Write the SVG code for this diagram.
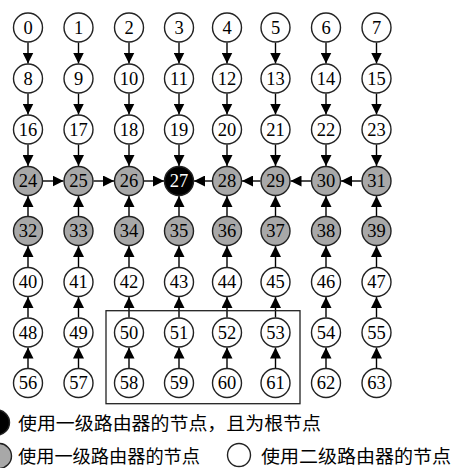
<svg xmlns="http://www.w3.org/2000/svg" width="456" height="468" viewBox="0 0 456 468">
<style>
circle{stroke:#222;stroke-width:1.4}
.w{fill:#fff}
.g{fill:#a8a8a8}
.b{fill:#000}
text{font-family:"Liberation Serif","Times New Roman",serif;font-size:18.5px;text-anchor:middle;fill:#000}
.bt{fill:#fff}
.e line{stroke:#000;stroke-width:1.4;marker-end:url(#ah)}
.lg{font-family:"Liberation Serif","Noto Sans CJK SC",serif;font-size:18px;text-anchor:start}
</style>
<defs>
<marker id="ah" markerUnits="userSpaceOnUse" markerWidth="11" markerHeight="11" refX="11" refY="5.5" orient="auto"><path d="M0,0 L11,5.5 L0,11 z" fill="#000"/></marker>
</defs>
<g class="e" id="connectors">
<line x1="28" y1="42.5" x2="28" y2="63.5"/><line x1="78.5" y1="42.5" x2="78.5" y2="63.5"/><line x1="129" y1="42.5" x2="129" y2="63.5"/><line x1="179" y1="42.5" x2="179" y2="63.5"/><line x1="227" y1="42.5" x2="227" y2="63.5"/><line x1="275.5" y1="42.5" x2="275.5" y2="63.5"/><line x1="326" y1="42.5" x2="326" y2="63.5"/><line x1="376.5" y1="42.5" x2="376.5" y2="63.5"/>
<line x1="28" y1="93.5" x2="28" y2="114.5"/><line x1="78.5" y1="93.5" x2="78.5" y2="114.5"/><line x1="129" y1="93.5" x2="129" y2="114.5"/><line x1="179" y1="93.5" x2="179" y2="114.5"/><line x1="227" y1="93.5" x2="227" y2="114.5"/><line x1="275.5" y1="93.5" x2="275.5" y2="114.5"/><line x1="326" y1="93.5" x2="326" y2="114.5"/><line x1="376.5" y1="93.5" x2="376.5" y2="114.5"/>
<line x1="28" y1="144.5" x2="28" y2="166"/><line x1="78.5" y1="144.5" x2="78.5" y2="166"/><line x1="129" y1="144.5" x2="129" y2="166"/><line x1="179" y1="144.5" x2="179" y2="166"/><line x1="227" y1="144.5" x2="227" y2="166"/><line x1="275.5" y1="144.5" x2="275.5" y2="166"/><line x1="326" y1="144.5" x2="326" y2="166"/><line x1="376.5" y1="144.5" x2="376.5" y2="166"/>
<line x1="43" y1="181" x2="63.5" y2="181"/><line x1="93.5" y1="181" x2="114" y2="181"/><line x1="144" y1="181" x2="164" y2="181"/>
<line x1="212" y1="181" x2="194" y2="181"/><line x1="260.5" y1="181" x2="242" y2="181"/><line x1="311" y1="181" x2="290.5" y2="181"/><line x1="361.5" y1="181" x2="341" y2="181"/>
<line x1="28" y1="216" x2="28" y2="196"/><line x1="78.5" y1="216" x2="78.5" y2="196"/><line x1="129" y1="216" x2="129" y2="196"/><line x1="179" y1="216" x2="179" y2="196"/><line x1="227" y1="216" x2="227" y2="196"/><line x1="275.5" y1="216" x2="275.5" y2="196"/><line x1="326" y1="216" x2="326" y2="196"/><line x1="376.5" y1="216" x2="376.5" y2="196"/>
<line x1="28" y1="267" x2="28" y2="246"/><line x1="78.5" y1="267" x2="78.5" y2="246"/><line x1="129" y1="267" x2="129" y2="246"/><line x1="179" y1="267" x2="179" y2="246"/><line x1="227" y1="267" x2="227" y2="246"/><line x1="275.5" y1="267" x2="275.5" y2="246"/><line x1="326" y1="267" x2="326" y2="246"/><line x1="376.5" y1="267" x2="376.5" y2="246"/>
<line x1="28" y1="317.5" x2="28" y2="297"/><line x1="78.5" y1="317.5" x2="78.5" y2="297"/><line x1="129" y1="317.5" x2="129" y2="297"/><line x1="179" y1="317.5" x2="179" y2="297"/><line x1="227" y1="317.5" x2="227" y2="297"/><line x1="275.5" y1="317.5" x2="275.5" y2="297"/><line x1="326" y1="317.5" x2="326" y2="297"/><line x1="376.5" y1="317.5" x2="376.5" y2="297"/>
<line x1="28" y1="368" x2="28" y2="347.5"/><line x1="78.5" y1="368" x2="78.5" y2="347.5"/><line x1="129" y1="368" x2="129" y2="347.5"/><line x1="179" y1="368" x2="179" y2="347.5"/><line x1="227" y1="368" x2="227" y2="347.5"/><line x1="275.5" y1="368" x2="275.5" y2="347.5"/><line x1="326" y1="368" x2="326" y2="347.5"/><line x1="376.5" y1="368" x2="376.5" y2="347.5"/>
</g>
<rect id="box" x="106" y="310.7" width="194" height="93" fill="none" stroke="#222" stroke-width="1.3"/>
<g id="n0"><circle class="w" cx="28" cy="27.5" r="14.5"/><text x="28" y="33.5">0</text></g>
<g id="n1"><circle class="w" cx="78.5" cy="27.5" r="14.5"/><text x="78.5" y="33.5">1</text></g>
<g id="n2"><circle class="w" cx="129" cy="27.5" r="14.5"/><text x="129" y="33.5">2</text></g>
<g id="n3"><circle class="w" cx="179" cy="27.5" r="14.5"/><text x="179" y="33.5">3</text></g>
<g id="n4"><circle class="w" cx="227" cy="27.5" r="14.5"/><text x="227" y="33.5">4</text></g>
<g id="n5"><circle class="w" cx="275.5" cy="27.5" r="14.5"/><text x="275.5" y="33.5">5</text></g>
<g id="n6"><circle class="w" cx="326" cy="27.5" r="14.5"/><text x="326" y="33.5">6</text></g>
<g id="n7"><circle class="w" cx="376.5" cy="27.5" r="14.5"/><text x="376.5" y="33.5">7</text></g>
<g id="n8"><circle class="w" cx="28" cy="78.5" r="14.5"/><text x="28" y="84.5">8</text></g>
<g id="n9"><circle class="w" cx="78.5" cy="78.5" r="14.5"/><text x="78.5" y="84.5">9</text></g>
<g id="n10"><circle class="w" cx="129" cy="78.5" r="14.5"/><text x="129" y="84.5">10</text></g>
<g id="n11"><circle class="w" cx="179" cy="78.5" r="14.5"/><text x="179" y="84.5">11</text></g>
<g id="n12"><circle class="w" cx="227" cy="78.5" r="14.5"/><text x="227" y="84.5">12</text></g>
<g id="n13"><circle class="w" cx="275.5" cy="78.5" r="14.5"/><text x="275.5" y="84.5">13</text></g>
<g id="n14"><circle class="w" cx="326" cy="78.5" r="14.5"/><text x="326" y="84.5">14</text></g>
<g id="n15"><circle class="w" cx="376.5" cy="78.5" r="14.5"/><text x="376.5" y="84.5">15</text></g>
<g id="n16"><circle class="w" cx="28" cy="129.5" r="14.5"/><text x="28" y="135.5">16</text></g>
<g id="n17"><circle class="w" cx="78.5" cy="129.5" r="14.5"/><text x="78.5" y="135.5">17</text></g>
<g id="n18"><circle class="w" cx="129" cy="129.5" r="14.5"/><text x="129" y="135.5">18</text></g>
<g id="n19"><circle class="w" cx="179" cy="129.5" r="14.5"/><text x="179" y="135.5">19</text></g>
<g id="n20"><circle class="w" cx="227" cy="129.5" r="14.5"/><text x="227" y="135.5">20</text></g>
<g id="n21"><circle class="w" cx="275.5" cy="129.5" r="14.5"/><text x="275.5" y="135.5">21</text></g>
<g id="n22"><circle class="w" cx="326" cy="129.5" r="14.5"/><text x="326" y="135.5">22</text></g>
<g id="n23"><circle class="w" cx="376.5" cy="129.5" r="14.5"/><text x="376.5" y="135.5">23</text></g>
<g id="n24"><circle class="g" cx="28" cy="181" r="14.5"/><text x="28" y="187">24</text></g>
<g id="n25"><circle class="g" cx="78.5" cy="181" r="14.5"/><text x="78.5" y="187">25</text></g>
<g id="n26"><circle class="g" cx="129" cy="181" r="14.5"/><text x="129" y="187">26</text></g>
<g id="n27"><circle class="b" cx="179" cy="181" r="14.5"/><text class="bt" x="179" y="187">27</text></g>
<g id="n28"><circle class="g" cx="227" cy="181" r="14.5"/><text x="227" y="187">28</text></g>
<g id="n29"><circle class="g" cx="275.5" cy="181" r="14.5"/><text x="275.5" y="187">29</text></g>
<g id="n30"><circle class="g" cx="326" cy="181" r="14.5"/><text x="326" y="187">30</text></g>
<g id="n31"><circle class="g" cx="376.5" cy="181" r="14.5"/><text x="376.5" y="187">31</text></g>
<g id="n32"><circle class="g" cx="28" cy="231" r="14.5"/><text x="28" y="237">32</text></g>
<g id="n33"><circle class="g" cx="78.5" cy="231" r="14.5"/><text x="78.5" y="237">33</text></g>
<g id="n34"><circle class="g" cx="129" cy="231" r="14.5"/><text x="129" y="237">34</text></g>
<g id="n35"><circle class="g" cx="179" cy="231" r="14.5"/><text x="179" y="237">35</text></g>
<g id="n36"><circle class="g" cx="227" cy="231" r="14.5"/><text x="227" y="237">36</text></g>
<g id="n37"><circle class="g" cx="275.5" cy="231" r="14.5"/><text x="275.5" y="237">37</text></g>
<g id="n38"><circle class="g" cx="326" cy="231" r="14.5"/><text x="326" y="237">38</text></g>
<g id="n39"><circle class="g" cx="376.5" cy="231" r="14.5"/><text x="376.5" y="237">39</text></g>
<g id="n40"><circle class="w" cx="28" cy="282" r="14.5"/><text x="28" y="288">40</text></g>
<g id="n41"><circle class="w" cx="78.5" cy="282" r="14.5"/><text x="78.5" y="288">41</text></g>
<g id="n42"><circle class="w" cx="129" cy="282" r="14.5"/><text x="129" y="288">42</text></g>
<g id="n43"><circle class="w" cx="179" cy="282" r="14.5"/><text x="179" y="288">43</text></g>
<g id="n44"><circle class="w" cx="227" cy="282" r="14.5"/><text x="227" y="288">44</text></g>
<g id="n45"><circle class="w" cx="275.5" cy="282" r="14.5"/><text x="275.5" y="288">45</text></g>
<g id="n46"><circle class="w" cx="326" cy="282" r="14.5"/><text x="326" y="288">46</text></g>
<g id="n47"><circle class="w" cx="376.5" cy="282" r="14.5"/><text x="376.5" y="288">47</text></g>
<g id="n48"><circle class="w" cx="28" cy="332.5" r="14.5"/><text x="28" y="338.5">48</text></g>
<g id="n49"><circle class="w" cx="78.5" cy="332.5" r="14.5"/><text x="78.5" y="338.5">49</text></g>
<g id="n50"><circle class="w" cx="129" cy="332.5" r="14.5"/><text x="129" y="338.5">50</text></g>
<g id="n51"><circle class="w" cx="179" cy="332.5" r="14.5"/><text x="179" y="338.5">51</text></g>
<g id="n52"><circle class="w" cx="227" cy="332.5" r="14.5"/><text x="227" y="338.5">52</text></g>
<g id="n53"><circle class="w" cx="275.5" cy="332.5" r="14.5"/><text x="275.5" y="338.5">53</text></g>
<g id="n54"><circle class="w" cx="326" cy="332.5" r="14.5"/><text x="326" y="338.5">54</text></g>
<g id="n55"><circle class="w" cx="376.5" cy="332.5" r="14.5"/><text x="376.5" y="338.5">55</text></g>
<g id="n56"><circle class="w" cx="28" cy="383" r="14.5"/><text x="28" y="389">56</text></g>
<g id="n57"><circle class="w" cx="78.5" cy="383" r="14.5"/><text x="78.5" y="389">57</text></g>
<g id="n58"><circle class="w" cx="129" cy="383" r="14.5"/><text x="129" y="389">58</text></g>
<g id="n59"><circle class="w" cx="179" cy="383" r="14.5"/><text x="179" y="389">59</text></g>
<g id="n60"><circle class="w" cx="227" cy="383" r="14.5"/><text x="227" y="389">60</text></g>
<g id="n61"><circle class="w" cx="275.5" cy="383" r="14.5"/><text x="275.5" y="389">61</text></g>
<g id="n62"><circle class="w" cx="326" cy="383" r="14.5"/><text x="326" y="389">62</text></g>
<g id="n63"><circle class="w" cx="376.5" cy="383" r="14.5"/><text x="376.5" y="389">63</text></g>
<g id="legend">
<circle cx="-3" cy="422.5" r="12.5" fill="#000"/>
<text class="lg" x="18" y="430" textLength="303" lengthAdjust="spacingAndGlyphs">使用一级路由器的节点，且为根节点</text>
<circle cx="-1" cy="456" r="12.5" fill="#a8a8a8"/>
<text class="lg" x="18" y="463" textLength="182" lengthAdjust="spacingAndGlyphs">使用一级路由器的节点</text>
<circle cx="239" cy="455" r="11.5" fill="#fff"/>
<text class="lg" x="261" y="463" textLength="190" lengthAdjust="spacingAndGlyphs">使用二级路由器的节点</text>
</g>
</svg>
